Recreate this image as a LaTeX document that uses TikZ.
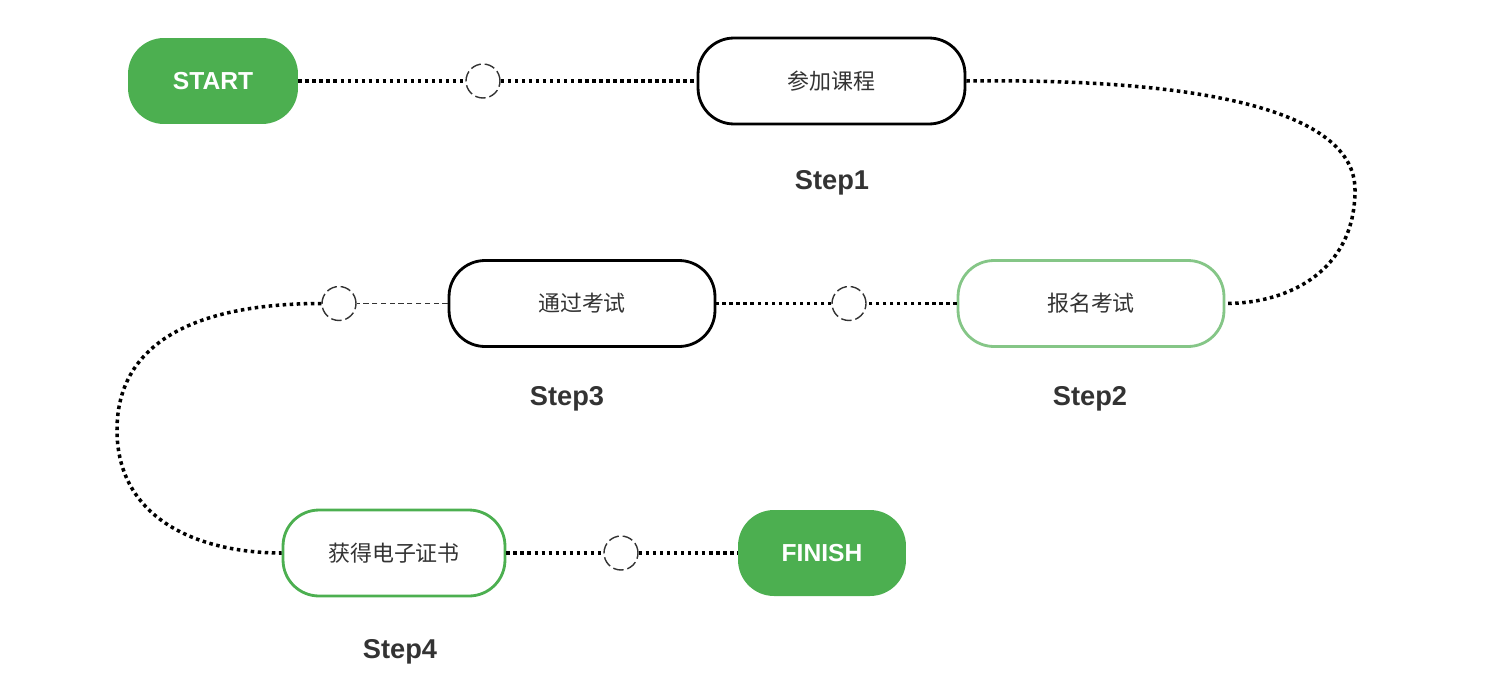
\documentclass[tikz,border=0pt]{standalone}
\usepackage{fontspec}
\setmainfont{Liberation Sans}
\newfontfamily\cjk{Noto Sans CJK SC}
\usetikzlibrary{positioning,calc}
\definecolor{stepgreen}{HTML}{4CAF50}
\definecolor{lightgreen}{HTML}{85C687}
\definecolor{txtgray}{HTML}{333333}

\begin{document}
\begin{tikzpicture}[x=0.02cm, y=-0.02cm,
    box/.style={draw, line width=1.6pt, rounded corners=0.72cm, minimum height=1.72cm, inner sep=0pt, font=\cjk\fontsize{12.5pt}{15pt}\selectfont, text=txtgray},
    endbox/.style={fill=stepgreen, rounded corners=0.72cm, minimum height=1.72cm, inner sep=0pt, text=white, font=\bfseries\fontsize{14pt}{17pt}\selectfont},
    hole/.style={circle, draw=txtgray, line width=0.8pt, dash pattern=on 6pt off 2.2pt, minimum size=0.68cm, inner sep=0pt},
    stepname/.style={text=txtgray, font=\bfseries\fontsize{15.5pt}{18pt}\selectfont},
    dots/.style={line width=2pt, dash pattern=on 2pt off 2pt},
    thin/.style={line width=0.6pt, dash pattern=on 3pt off 2pt, draw=txtgray}]

  \useasboundingbox (0,0) rectangle (1494,690);

  % Boxes for the four steps
  \node[endbox, minimum width=3.4cm] (start) at (213,81) {START};
  \node[box, minimum width=5.34cm] (kc) at (831.5,81) {参加课程};
  \node[box, draw=lightgreen, minimum width=5.32cm] (bm) at (1091,303.5) {报名考试};
  \node[box, minimum width=5.32cm] (tg) at (582,303.5) {通过考试};
  \node[box, draw=stepgreen, minimum width=4.44cm] (hd) at (394,553) {获得电子证书};
  \node[endbox, minimum width=3.36cm] (finish) at (822,553) {FINISH};

  % Step names
  \node[stepname] (s1) at (832,183) {Step1};
  \node[stepname] (s2) at (1090,399) {Step2};
  \node[stepname] (s3) at (567,399) {Step3};
  \node[stepname] (s4) at (400,652) {Step4};

  % Dashed circles on the links
  \node[hole] (c1) at (483,81) {};
  \node[hole] (c2) at (849,303.5) {};
  \node[hole] (c3) at (339,303.5) {};
  \node[hole] (c4) at (621,553) {};

  % Dotted links
  \draw[dots] (start) -- (c1) -- (kc);
  \draw[dots] (kc.east) .. controls (1200,78) and (1355,110) .. (1355,190)
    .. controls (1355,270) and (1290,303.5) .. (bm.east);
  \draw[dots] (bm) -- (c2) -- (tg);
  \draw[thin] (tg) -- (c3);
  \draw[dots] (c3.west) .. controls (200,303.5) and (117,340) .. (117,430)
    .. controls (117,520) and (200,553) .. (hd.west);
  \draw[dots] (hd) -- (c4) -- (finish);

\end{tikzpicture}
\end{document}
